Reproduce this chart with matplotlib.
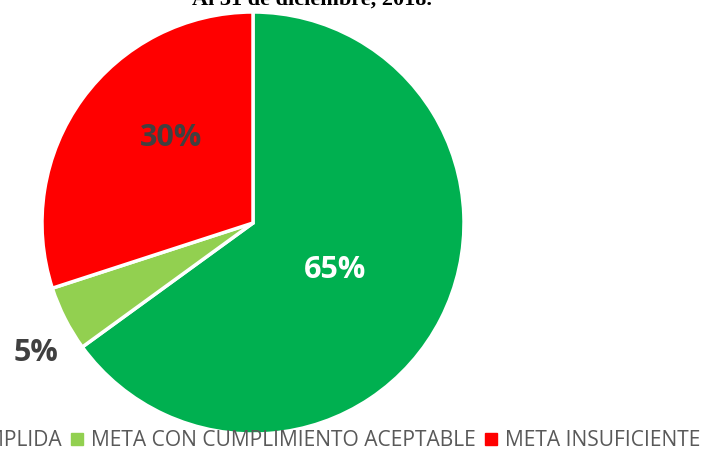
import numpy as np
import matplotlib.pyplot as plt
from matplotlib.patches import Patch

# datos
categorias = ['META CUMPLIDA', 'META CON CUMPLIMIENTO ACEPTABLE', 'META INSUFICIENTE']
valores = [65, 5, 30]
colores = ['#00B050', '#92D050', '#FF0000']
color_texto = ['white', '#404040', '#404040']
dist_texto = [0.45, 1.2, 0.56]
giro_texto = [-3, 4, -10]   # pequeño ajuste de ángulo de cada etiqueta

fig = plt.figure(figsize=(7.01, 4.53), dpi=100)
ax = fig.add_axes([42 / 701, 19 / 453, 422 / 701, 422 / 453])

wedges, _ = ax.pie(valores, colors=colores, startangle=90, counterclock=False,
                   wedgeprops=dict(edgecolor='white', linewidth=2.5))
ax.set_aspect('equal')
ax.set_xlim(-1, 1)
ax.set_ylim(-1, 1)

for w, v, c, d, g in zip(wedges, valores, color_texto, dist_texto, giro_texto):
    ang = np.deg2rad((w.theta1 + w.theta2) / 2 + g)
    ax.text(d * np.cos(ang), d * np.sin(ang), f'{v}%', color=c, fontsize=22,
            fontweight='bold', family='Open Sans', ha='center', va='center')

fig.text(312 / 701, 448.5 / 453, 'Al 31 de diciembre, 2018.', family='Liberation Serif',
         fontweight='bold', fontsize=16, ha='center', va='baseline')

handles = [Patch(color=c) for c in colores]
fig.legend(handles, categorias, loc='center left', bbox_to_anchor=(-124 / 701, 12 / 453),
           ncol=3, frameon=False, handlelength=0.55, handleheight=0.55, handletextpad=0.4,
           columnspacing=0.45, borderaxespad=0, borderpad=0,
           prop=dict(family='Open Sans', size=15.1), labelcolor='#595959')

fig.savefig('out.png', dpi=100)
